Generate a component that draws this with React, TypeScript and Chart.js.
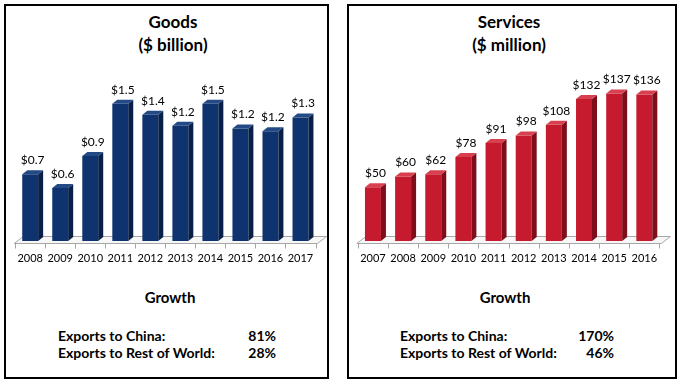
import React, { useEffect, useRef } from "react";
import { Chart, registerables } from "chart.js";

Chart.register(...registerables);

// ---------- data ----------
const goodsYears = ["2008", "2009", "2010", "2011", "2012", "2013", "2014", "2015", "2016", "2017"];
const goodsValues = [0.73, 0.58, 0.93, 1.5, 1.38, 1.26, 1.5, 1.23, 1.2, 1.35];
const goodsLabels = ["$0.7", "$0.6", "$0.9", "$1.5", "$1.4", "$1.2", "$1.5", "$1.2", "$1.2", "$1.3"];

const servicesYears = ["2007", "2008", "2009", "2010", "2011", "2012", "2013", "2014", "2015", "2016"];
const servicesValues = [50, 60, 62, 78, 91, 98, 108, 132, 137, 136];
const servicesLabels = ["$50", "$60", "$62", "$78", "$91", "$98", "$108", "$132", "$137", "$136"];

const goodsGrowth = [
  ["Exports to China:", "81%"],
  ["Exports to Rest of World:", "28%"],
];
const servicesGrowth = [
  ["Exports to China:", "170%"],
  ["Exports to Rest of World:", "46%"],
];

const FONT = "Lato, 'Open Sans', sans-serif";
const DX = 5;
const DY = 4;

const bar3d = {
  id: "bar3d",
  beforeDatasetsDraw(chart: any, _args: any, opts: any) {
    const { ctx, chartArea } = chart;
    const { left, right, bottom } = chartArea;
    const xs = chart.scales.x;
    const n = chart.data.labels.length;
    ctx.save();
    ctx.lineWidth = 1;
    ctx.strokeStyle = "#a6a6a6";
    const fy = Math.round(bottom + 2) + 0.5;
    const by = Math.round(bottom - 5) + 0.5;
    ctx.beginPath();
    ctx.moveTo(left - 1, fy);
    ctx.lineTo(right + 2, fy);
    ctx.lineTo(right + 11, by);
    ctx.lineTo(left + 8, by);
    ctx.closePath();
    ctx.fillStyle = "#f7f7f7";
    ctx.fill();
    ctx.stroke();
    ctx.beginPath();
    for (let i = 0; i <= n; i++) {
      const px = Math.round(xs.getPixelForValue(i - 0.5)) + 0.5;
      ctx.moveTo(px, fy);
      ctx.lineTo(px, fy + 5);
    }
    ctx.stroke();
    ctx.restore();
  },
  afterDatasetsDraw(chart: any, _args: any, opts: any) {
    const { ctx } = chart;
    const meta = chart.getDatasetMeta(0);
    ctx.save();
    meta.data.forEach((bar: any, i: number) => {
      const { x, y, base, width } = bar.getProps(["x", "y", "base", "width"], true);
      const l = x - width / 2;
      const r = x + width / 2;
      // side face
      ctx.fillStyle = opts.side;
      ctx.beginPath();
      ctx.moveTo(r, y);
      ctx.lineTo(r + DX, y - DY);
      ctx.lineTo(r + DX, base - DY);
      ctx.lineTo(r, base);
      ctx.closePath();
      ctx.fill();
      // top face
      ctx.fillStyle = opts.top;
      ctx.beginPath();
      ctx.moveTo(l, y);
      ctx.lineTo(l + DX, y - DY);
      ctx.lineTo(r + DX, y - DY);
      ctx.lineTo(r, y);
      ctx.closePath();
      ctx.fill();
      // value label
      ctx.fillStyle = "#000";
      ctx.font = `12px ${FONT}`;
      ctx.textAlign = "center";
      ctx.textBaseline = "bottom";
      ctx.fillText(opts.labels[i], x + DX / 2, y - DY - 4);
    });
    ctx.restore();
  },
};

type BarProps = {
  years: string[];
  values: number[];
  labels: string[];
  max: number;
  front: string;
  side: string;
  top: string;
  left: number;
  width: number;
  padL: number;
  padR: number;
};

const CANVAS_H = 234;

function BarChart(p: BarProps) {
  const ref = useRef<HTMLCanvasElement | null>(null);
  useEffect(() => {
    if (!ref.current) return;
    const chart = new Chart(ref.current, {
      type: "bar",
      data: {
        labels: p.years,
        datasets: [
          {
            data: p.values,
            backgroundColor: p.front,
            borderWidth: 0,
            barPercentage: 0.53,
            categoryPercentage: 1,
          },
        ],
      },
      options: {
        responsive: false,
        animation: false,
        layout: { padding: { top: 14, left: p.padL, right: p.padR, bottom: 1.8 } },
        plugins: {
          legend: { display: false },
          tooltip: { enabled: false },
          title: { display: false },
          bar3d: { side: p.side, top: p.top, labels: p.labels },
        } as any,
        scales: {
          x: {
            grid: { display: false, drawTicks: false },
            border: { display: false },
            ticks: {
              color: "#000",
              font: { family: FONT, size: 11 },
              padding: 11,
              maxRotation: 0,
              autoSkip: false,
            },
          },
          y: { display: false, min: 0, max: p.max },
        },
      },
      plugins: [bar3d as any],
    });
    return () => chart.destroy();
  }, []);
  return (
    <canvas
      ref={ref}
      width={p.width}
      height={CANVAS_H}
      style={{ position: "absolute", left: p.left, top: 44, width: p.width, height: CANVAS_H }}
    />
  );
}

function T(props: { x: number; y: number; size: number; bold?: boolean; align?: string; children: any }) {
  const { x, y, size, bold, align = "left", children } = props;
  const tx = align === "center" ? "-50%" : align === "right" ? "-100%" : "0";
  return (
    <div
      style={{
        position: "absolute",
        left: x,
        top: y - size * 0.53,
        fontSize: size,
        lineHeight: 1,
        fontWeight: bold ? 700 : 400,
        fontFamily: FONT,
        whiteSpace: "nowrap",
        transform: `translateX(${tx})`,
        color: "#000",
      }}
    >
      {children}
    </div>
  );
}

function Panel(props: { left: number; width: number }) {
  return (
    <div
      style={{
        position: "absolute",
        left: props.left,
        top: 4,
        width: props.width,
        height: 375,
        border: "2px solid #000",
        boxSizing: "border-box",
      }}
    />
  );
}

export default function App() {
  return (
    <div style={{ position: "absolute", left: 0, top: 0, width: 682, height: 384, background: "#fff", overflow: "hidden" }}>
      <Panel left={4} width={325} />
      <Panel left={347} width={330} />

      <T x={173} y={22} size={17} bold align="center">Goods</T>
      <T x={173} y={45} size={17} bold align="center">($ billion)</T>
      <T x={509} y={22} size={17} bold align="center">Services</T>
      <T x={509} y={45} size={17} bold align="center">($ million)</T>

      <BarChart
        years={goodsYears}
        values={goodsValues}
        labels={goodsLabels}
        max={2.0}
        front="#0f336f"
        side="#081f47"
        top="#244a86"
        left={6}
        width={321}
        padL={8.45}
        padR={11.5}
      />
      <BarChart
        years={servicesYears}
        values={servicesValues}
        labels={servicesLabels}
        max={170}
        front="#c61a2f"
        side="#7e0e1a"
        top="#d8404f"
        left={349}
        width={326}
        padL={3.7}
        padR={15.6}
      />

      <T x={170} y={298} size={15} bold align="center">Growth</T>
      {goodsGrowth.map((g, i) => (
        <React.Fragment key={"g" + i}>
          <T x={58} y={336 + i * 17} size={14} bold>{g[0]}</T>
          <T x={276} y={336 + i * 17} size={14} bold align="right">{g[1]}</T>
        </React.Fragment>
      ))}

      <T x={505} y={298} size={15} bold align="center">Growth</T>
      {servicesGrowth.map((g, i) => (
        <React.Fragment key={"s" + i}>
          <T x={400} y={336 + i * 17} size={14} bold>{g[0]}</T>
          <T x={614} y={336 + i * 17} size={14} bold align="right">{g[1]}</T>
        </React.Fragment>
      ))}
    </div>
  );
}
